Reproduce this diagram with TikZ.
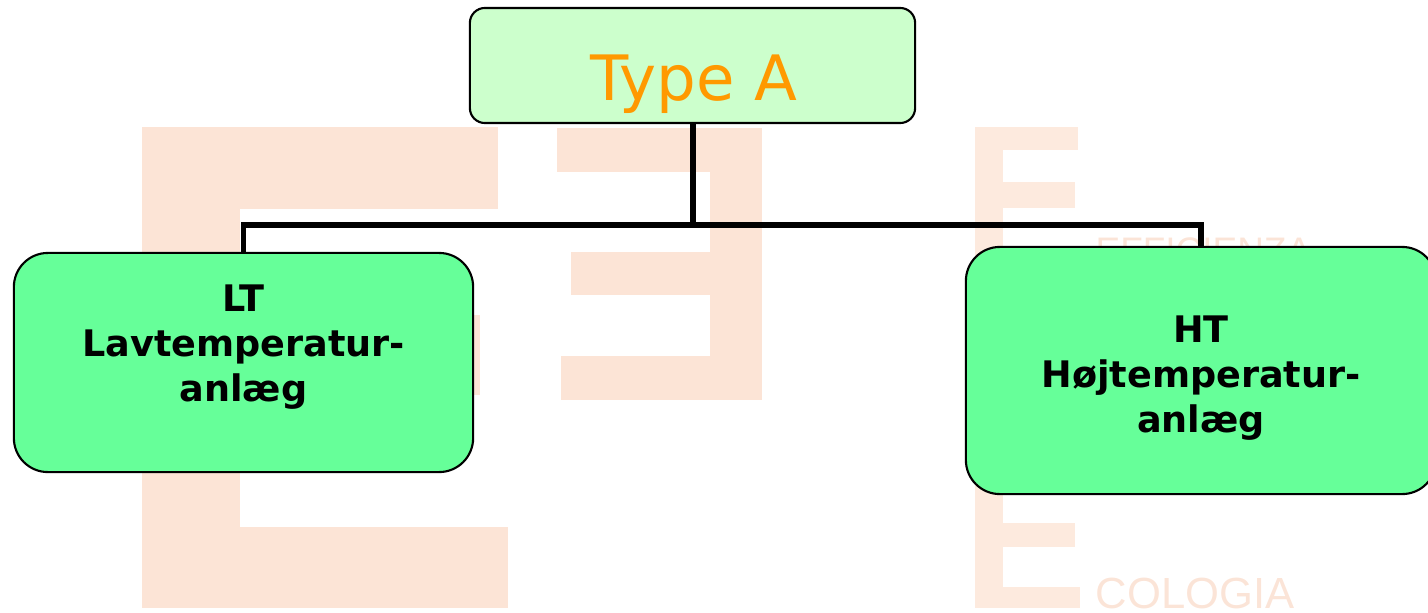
\documentclass[tikz,border=0pt]{standalone}
\usepackage{fontspec}
\newfontfamily\boxfont{DejaVu Sans}
\newfontfamily\markfont{Liberation Sans}

\definecolor{mintfill}{HTML}{CCFFCC}
\definecolor{greenfill}{HTML}{66FF99}
\definecolor{typeorange}{HTML}{FF9900}
\definecolor{peach}{HTML}{FCE4D6}
\definecolor{peachlight}{HTML}{FDEADE}
\definecolor{peachtext}{HTML}{FBE4D7}

\begin{document}
\begin{tikzpicture}[x=0.01cm,y=-0.01cm,
    topbox/.style={draw,fill=mintfill,line width=0.6pt,rounded corners=0.15cm,
        minimum width=4.45cm,minimum height=1.15cm,inner sep=0pt},
    subbox/.style={draw,fill=greenfill,line width=0.6pt,rounded corners=0.34cm,inner sep=0pt},
    typetext/.style={inner sep=0pt,text=typeorange,font={\boxfont\fontsize{17.8}{21}\selectfont}},
    boxtext/.style={inner sep=0pt,align=center,font={\boxfont\bfseries\fontsize{10.4}{12.8}\selectfont}},
    marktext/.style={inner sep=0pt,text=peachtext,anchor=base west},
    link/.style={line width=1.7pt}]
    \useasboundingbox (0,0) rectangle (1428,612);

    % watermark in the background
    \foreach \xa/\ya/\xb/\yb in {142/127/498/209, 142/127/240/608, 142/315/480/395, 142/527/508/608,
        557/128/762/172, 710/128/762/400, 571/252/710/295, 561/356/762/400} {
        \fill[peach] (\xa,\ya) rectangle (\xb,\yb);
    }
    \foreach \xa/\ya/\xb/\yb in {975/127/1003/608, 975/127/1078/150, 975/182/1075/208,
        975/523/1075/547, 975/587/1080/608} {
        \fill[peachlight] (\xa,\ya) rectangle (\xb,\yb);
    }
    \node[marktext,font={\markfont\fontsize{10.5}{12}\selectfont}] (efficienza) at (1095,263) {EFFICIENZA};
    \node[marktext,font={\markfont\fontsize{12.4}{14}\selectfont}] (cologia) at (1095,608) {COLOGIA};

    % boxes
    \node[topbox] (typeA) at (692.5,65.5) {};
    \node[subbox,minimum width=4.59cm,minimum height=2.19cm] (lt) at (243.5,362.5) {};
    \node[subbox,minimum width=4.70cm,minimum height=2.47cm] (ht) at (1201,370.5) {};

    \node[typetext,anchor=base] (typeAtext) at (694,100) {Type A};
    \node[boxtext] (lttext) at (243.5,347) {LT\\Lavtemperatur-\\anlæg};
    \node[boxtext] (httext) at (1201,378) {HT\\Højtemperatur-\\anlæg};

    % connectors
    \path (typeA.south) ++(0,101) coordinate (fork);
    \draw[link] (typeA.south) -- (fork) -| (lt.north);
    \draw[link] (fork) -| (ht.north);
\end{tikzpicture}
\end{document}
